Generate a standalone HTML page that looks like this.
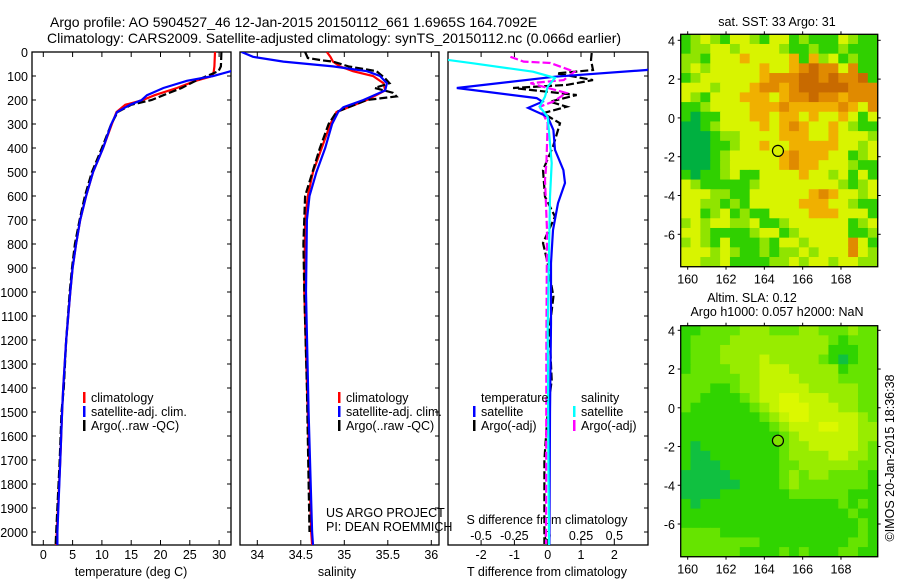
<!DOCTYPE html>
<html><head><meta charset="utf-8"><style>
body{margin:0;background:#fff;width:900px;height:580px;overflow:hidden}
svg{display:block;font-family:"Liberation Sans",sans-serif}
text{font-size:12.5px;fill:#000}
</style></head><body>
<svg id="fig" width="900" height="580">
<text x="50" y="27" style="font-size:14px">Argo profile: AO 5904527_46 12-Jan-2015 20150112_661 1.6965S 164.7092E</text>
<text x="47" y="43" style="font-size:14px">Climatology: CARS2009. Satellite-adjusted climatology: synTS_20150112.nc (0.066d earlier)</text>
</svg>
<script>
// ---------- data ----------
const tDepth   = [0,60,80,100,120,150,180,200,220,250,300,400,500,600,700,800,900,1000,1200,1400,1500,1700,2000,2055];
const tClim    = [29.3,29.2,29.1,28.9,26,22.8,19,17,14,12.5,11.7,10.2,8.5,7.3,6.3,5.6,5.0,4.6,3.9,3.4,3.2,2.9,2.3,2.2];
const tSat     = [34,33,32,29,24.5,20.5,17.7,16.8,14.8,12.6,11.6,10.2,8.5,7.3,6.3,5.6,5.0,4.6,3.9,3.4,3.2,2.9,2.4,2.4];
const tArgo    = [30.4,30.3,29.9,27.9,26,23.6,20.5,18.5,15,12.7,11.6,10.0,8.3,7.1,6.2,5.4,4.9,4.5,3.9,3.5,3.1,2.8,2.2,2.1];
const sDepth   = [0,20,40,60,80,100,130,160,200,230,250,300,400,500,600,700,1000,1500,2000,2055];
const sClim    = [34.80,34.84,34.87,34.95,35.1,35.33,35.45,35.47,35.26,35.05,34.91,34.84,34.74,34.64,34.58,34.55,34.54,34.58,34.62,34.63];
const sSat     = [33.82,33.95,34.3,34.87,35.26,35.41,35.49,35.47,35.22,34.99,34.93,34.86,34.78,34.68,34.6,34.57,34.56,34.59,34.63,34.64];
const aSDepth  = [0,25,35,40,60,80,110,130,150,170,185,200,250,300,400,600,800,1000,1400,2000];
const sArgo    = [34.55,34.58,34.75,34.87,35.05,35.37,35.47,35.52,35.35,35.56,35.6,35.26,34.91,34.82,34.72,34.55,34.53,34.54,34.57,34.6];
const dtDepth  = [0,50,75,103,150,192,207,233,270,325,408,492,546,630,742,880,1130,1500,2055];
const dtSat    = [4,3.5,2.97,0.22,-2.73,-0.33,-0.16,-0.59,0.0,0.17,0.22,0.47,0.52,0.31,0.16,0.1,0.1,0.07,0.05];
const dsDepth  = [0,10,33,47,82,108,144,186,228,270,463,603,1158,2055];
const dsSat    = [-0.9,-0.8,-0.75,-0.56,-0.11,0.055,0,-0.02,-0.06,0,0.03,0.017,0,0.01];
const daDepth  = [4,33,75,89,117,137,150,179,207,228,255,297,325,394,492,603,686,796,880,1019,1158,1367,1500,1700,2000,2050];
const dtArgo   = [1.32,1.3,1.36,0.27,1.36,0.57,-1.04,0.87,0.07,0.57,-0.14,0.37,0.31,0.16,-0.14,-0.08,0.22,-0.14,0,0.17,0.05,0.12,0,-0.1,-0.1,-0.1];
const dsaDepth = [20,40,46,82,117,130,171,207,228,297,463,533,742,1200,2050];
const dsArgo   = [-0.28,-0.18,0.02,0.2,0.12,-0.13,0.14,0.04,-0.06,0,-0.01,-0.02,-0.005,-0.01,-0.013];
const depthTicks = [0,100,200,300,400,500,600,700,800,900,1000,1100,1200,1300,1400,1500,1600,1700,1800,1900,2000];
const tempTicks = [0,5,10,15,20,25,30];
const salTicks = [34,34.5,35,35.5,36];
const salTickLabels = ["34","34.5","35","35.5","36"];
const dtTicks = [-2,-1,0,1,2];
const dsTicks = [-0.5,-0.25,0,0.25,0.5];
const dsTickLabels = ["-0.5","-0.25","0","0.25","0.5"];
const lonTicks = [160,162,164,166,168];
const latTicks = [4,2,0,-2,-4,-6];
const argoLon = 164.71, argoLat = -1.70;
const sstRows = [
"glylgyylgyyglgggylgg","gllyylyyyylgglgglggg","llgyyyoyyyyogolyglgg","lylyyyyyoyyoObOOyOgg",
"glyyyyyyoOOObbObOObg","yyylyyyoOOoObbbbbOOO","ylgyyyoooyoOObOOoOOO","gglyyyyoooOoooooOoyO",
"gGggyyyooyooyoyyoygy","GGglyyyyoyoOoyyoylgg","GGGgllyyyyoooyyoyyyl","GGGgglyyoyyoooooyyly",
"GGGglyyyyyoOoooyygly","GGGglyyyyyoOooyyylgg","gGgglyggyyyyoyylygyg","ylggggglyyyyyyyylgly",
"yyyllggyyyyyyoOoyyly","yyllglgyyyyyoooyylgg","yyglyglggyyyyoooyyyg","lylyyllygglyyyyyygly",
"yylgggglyyglyyyyyggl","lylgyggglgyylyyyyOyg","yyylylgglgllylyyyOyl","yyllyggggllylyylyyll"];
const slaRows = [
"ggmmmmlllmmmllmmmlmm","gmmmmllllllllllmgmmm","gmmmlllllllllllgggmm","gmmmllllylllllmgDgmm",
"gmmmmlllyyylllllgmmm","mmmmmmllyyyyllllmmmm","mmmggmllyyyyylllllmm","mmggggmlyyYYyyylllmm",
"mggggggmlyYYYyyyllmm","ggggggggmlyYYyyyyylm","gggggggggmlyyyYYyyll","ggggggggggmlyyyyyyll",
"gDggggggggmllyyyyylm","gDDgggggggmllllyyllm","gDDDggggggmmllllllmm","DDDDDgggggmlmllmmmmg",
"DDDDDDggggmlmmmmmmmg","DDDDgggggggmmmmmmggg","gDggggggggggggggmgmg","gggggggggggggggggmgg",
"ggggggggggggggggggmg","mmmmggggggggggggggmg","mmmmmmmmgggggggggmmg","mmmmmmggggmgmgggmmgg"];
const sstPal = {G:"#00b040",g:"#30d000",l:"#90e400",y:"#d8f400",o:"#f0b000",O:"#e08a00",b:"#c86a00"};
const slaPal = {D:"#10c040",g:"#30d400",m:"#66e400",l:"#98ec00",y:"#c4f400",Y:"#dcf800"};

// ---------- helpers ----------
const NS="http://www.w3.org/2000/svg", svg=document.getElementById('fig');
function mk(tag,attrs,parent){const e=document.createElementNS(NS,tag);for(const k in attrs)e.setAttribute(k,attrs[k]);(parent||svg).appendChild(e);return e;}
const TOP=52, BOT=545;
const yD = d => TOP + d*0.24;
const xT = v => 43.3 + v*5.86;
const xS = v => 257.3 + (v-34)*87;
const xDT = v => 547.7 + v*33.3;
const xDS = v => 547.7 + v*133.3;
const panels=[{x0:32,x1:231,n:'temperature'},{x0:240,x1:439,n:'salinity'},{x0:448,x1:648,n:'difference'}];
const defs=mk('defs',{});
panels.forEach((p,i)=>{const c=mk('clipPath',{id:'clip'+i},defs);mk('rect',{x:p.x0,y:TOP,width:p.x1-p.x0,height:BOT-TOP},c);});

function line(xs,ds,sx,color,dash,clip,name,w){
  const pts=xs.map((v,i)=>sx(v).toFixed(1)+','+yD(ds[i]).toFixed(1)).join(' ');
  const e=mk('polyline',{points:pts,fill:'none',stroke:color,'stroke-width':w||2.2,'clip-path':'url(#clip'+clip+')'});
  if(dash)e.setAttribute('stroke-dasharray',dash);
  
  
}
function txt(x,y,s,anchor,name,size){const e=mk('text',{x:x,y:y,'text-anchor':anchor||'start'});if(size)e.style.fontSize=size+'px';e.textContent=s;
  
  
  return e;}

// frames + depth ticks
panels.forEach((p,i)=>{
  const r=mk('rect',{x:p.x0,y:TOP,width:p.x1-p.x0,height:BOT-TOP,fill:'none',stroke:'#000','stroke-width':1.3});
  
  
  depthTicks.forEach(d=>{
    if(i==0){mk('line',{x1:p.x0,x2:p.x0+4,y1:yD(d),y2:yD(d),stroke:'#000'});}
    mk('line',{x1:p.x1-4,x2:p.x1,y1:yD(d),y2:yD(d),stroke:'#000'});
  });
});
depthTicks.forEach(d=>txt(28,yD(d)+5,String(d),'end','depth-tick-label'));

// x ticks
tempTicks.forEach(v=>{const x=xT(v);mk('line',{x1:x,x2:x,y1:BOT,y2:BOT-5,stroke:'#000'});mk('line',{x1:x,x2:x,y1:TOP,y2:TOP+5,stroke:'#000'});txt(x,559,String(v),'middle','temperature-tick-label');});
salTicks.forEach((v,i)=>{const x=xS(v);mk('line',{x1:x,x2:x,y1:BOT,y2:BOT-5,stroke:'#000'});mk('line',{x1:x,x2:x,y1:TOP,y2:TOP+5,stroke:'#000'});txt(x,559,salTickLabels[i],'middle','salinity-tick-label');});
dtTicks.forEach(v=>{const x=xDT(v);mk('line',{x1:x,x2:x,y1:BOT,y2:BOT-5,stroke:'#000'});mk('line',{x1:x,x2:x,y1:TOP,y2:TOP+5,stroke:'#000'});txt(x,559,v<0?'-'+Math.abs(v):String(v),'middle','t-diff-tick-label');});
dsTicks.forEach((v,i)=>{txt(xDS(v),540,dsTickLabels[i],'middle','s-diff-tick-label');});
txt(131,576,'temperature (deg C)','middle','temperature-axis-title');
txt(337,576,'salinity','middle','salinity-axis-title');
txt(547,576,'T difference from climatology','middle','t-diff-axis-title');
txt(547,524,'S difference from climatology','middle','s-diff-axis-title');

// series
line(tClim,tDepth,xT,'#ff0000',null,0,'temperature-climatology-line');
line(tArgo,tDepth,xT,'#000',"8,3",0,'temperature-argo-line');
line(tSat,tDepth,xT,'#0000ff',null,0,'temperature-satellite-line');
line(sClim,sDepth,xS,'#ff0000',null,1,'salinity-climatology-line');
line(sArgo,aSDepth,xS,'#000',"8,3",1,'salinity-argo-line');
line(sSat,sDepth,xS,'#0000ff',null,1,'salinity-satellite-line');
line(dtArgo,daDepth,xDT,'#000',"8,3",2,'t-diff-argo-line');
line(dsArgo,dsaDepth,xDS,'#ff00ff',"8,3",2,'s-diff-argo-line');
line(dtSat,dtDepth,xDT,'#0000ff',null,2,'t-diff-satellite-line');
line(dsSat,dsDepth,xDS,'#00ffff',null,2,'s-diff-satellite-line');

// legends
function leg(x,y,color,label,name){const r=mk('rect',{x:x,y:y-9,width:2.5,height:11,fill:color});
  
  
  txt(x+8,y+1,label,'start',name);}
[[83,'#ff0000','climatology'],[83,'#0000ff','satellite-adj. clim.'],[83,'#000','Argo(..raw -QC)']].forEach((l,i)=>leg(l[0],401+i*14,l[1],l[2],'temperature-legend-entry'));
[[338,'#ff0000','climatology'],[338,'#0000ff','satellite-adj. clim.'],[338,'#000','Argo(..raw -QC)']].forEach((l,i)=>leg(l[0],401+i*14,l[1],l[2],'salinity-legend-entry'));
txt(481,402,'temperature','start','diff-legend-temperature-header');
txt(581,402,'salinity','start','diff-legend-salinity-header');
leg(473,415,'#0000ff','satellite','diff-legend-t-satellite');
leg(473,429,'#000','Argo(-adj)','diff-legend-t-argo');
leg(573,415,'#00ffff','satellite','diff-legend-s-satellite');
leg(573,429,'#ff00ff','Argo(-adj)','diff-legend-s-argo');
txt(326,517,'US ARGO PROJECT','start','project-label');
txt(326,531,'PI: DEAN ROEMMICH','start','pi-label');

// maps
function map(y0,y1,lat4y,lat6y,rows,pal,name,circleFill){
  const x0=680.7,x1=877.7;
  const lonX=v=>687.7+(v-160)*19.16;
  const latY=v=>lat4y+(4-v)*(lat6y-lat4y)/10;
  const nr=rows.length,nc=rows[0].length,cw=(x1-x0)/nc,ch=(y1-y0)/nr;
  const g=mk('g',{});
  
  
  rows.forEach((row,r)=>{for(let c=0;c<nc;c++){
    const cell=mk('rect',{x:(x0+c*cw).toFixed(2),y:(y0+r*ch).toFixed(2),width:(cw+0.6).toFixed(2),height:(ch+0.6).toFixed(2),fill:pal[row[c]]},g);
    
    
  }});
  const f=mk('rect',{x:x0,y:y0,width:x1-x0,height:y1-y0,fill:'none',stroke:'#000','stroke-width':1.3});
  
  
  lonTicks.forEach(v=>{const x=lonX(v);mk('line',{x1:x,x2:x,y1:y0-3,y2:y0,stroke:'#000'});mk('line',{x1:x,x2:x,y1:y1,y2:y1+3,stroke:'#000'});txt(x,y1+17,String(v),'middle',name+'-lon-label');});
  latTicks.forEach(v=>{const y=latY(v);mk('line',{x1:x0-3,x2:x0,y1:y,y2:y,stroke:'#000'});mk('line',{x1:x1,x2:x1+3,y1:y,y2:y,stroke:'#000'});txt(675,y+5,String(v),'end',name+'-lat-label');});
  const c=mk('circle',{cx:lonX(argoLon),cy:latY(argoLat),r:5.5,fill:circleFill,stroke:'#000','stroke-width':1.2});
  
  
}
map(34.3,266.7,40.3,234.3,sstRows,sstPal,'sst-map','#d8f000');
map(325.7,556.7,330.3,524,slaRows,slaPal,'sla-map','#80e000');
txt(777,26,'sat. SST: 33 Argo: 31','middle','sst-map-title');
txt(752,302,'Altim. SLA: 0.12','middle','sla-map-title-1');
txt(777,316,'Argo h1000: 0.057 h2000: NaN','middle','sla-map-title-2');
const rot=txt(0,0,'©IMOS 20-Jan-2015 18:36:38','middle','timestamp-label');
rot.setAttribute('transform','translate(894,458) rotate(-90)');
</script>
</body></html>
